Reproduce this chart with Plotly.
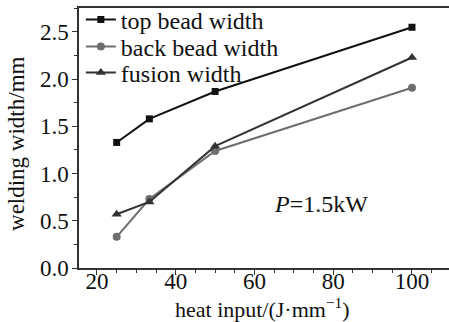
import plotly.graph_objects as go

heat_input = [25, 33.3, 50, 100]
top_bead = [1.33, 1.58, 1.87, 2.55]
back_bead = [0.33, 0.73, 1.24, 1.91]
fusion = [0.57, 0.70, 1.29, 2.23]

FONT = "Liberation Serif"
TXT = "#111111"

fig = go.Figure()
fig.add_trace(go.Scatter(x=heat_input, y=top_bead, name="top bead width", mode="lines+markers",
                         legend="legend",
                         line=dict(color="#111111", width=2),
                         marker=dict(symbol="square", size=7, color="#111111")))
fig.add_trace(go.Scatter(x=heat_input, y=back_bead, name="back bead width", mode="lines+markers",
                         legend="legend2",
                         line=dict(color="#6e6e6e", width=2),
                         marker=dict(symbol="circle", size=8, color="#6e6e6e")))
fig.add_trace(go.Scatter(x=heat_input, y=fusion, name="fusion width", mode="lines+markers",
                         legend="legend3",
                         line=dict(color="#333333", width=2),
                         marker=dict(symbol="triangle-up", size=9, color="#333333")))

fig.add_annotation(x=64.4, y=0.68, xref="x", yref="y", xanchor="left", yanchor="middle",
                   text="<i>P</i>=1.5kW", showarrow=False,
                   font=dict(family=FONT, size=24, color=TXT))

# axis titles
fig.add_annotation(x=0.495, y=-0.15, xref="paper", yref="paper", xanchor="center", yanchor="middle",
                   yshift=-1,
                   text="heat input/(J·mm<sup>−1</sup>)", showarrow=False,
                   font=dict(family=FONT, size=22, color=TXT))
fig.add_annotation(x=0, y=0.477, xref="paper", yref="paper", xanchor="center", yanchor="middle",
                   xshift=-62, textangle=-90,
                   text="welding width/mm", showarrow=False,
                   font=dict(family=FONT, size=23, color=TXT))

leg_common = dict(x=0.005, xanchor="left", yanchor="middle", bgcolor="rgba(0,0,0,0)",
                  font=dict(family=FONT, size=24, color=TXT), itemwidth=30)

fig.update_layout(
    width=449, height=322,
    margin=dict(l=79, r=0, t=8, b=54, autoexpand=False),
    paper_bgcolor="white", plot_bgcolor="white",
    font=dict(family=FONT, size=22, color=TXT),
    showlegend=True,
    legend=dict(y=0.954, **leg_common),
    legend2=dict(y=0.85, **leg_common),
    legend3=dict(y=0.75, **leg_common),
    xaxis=dict(range=[15.43, 109.4], tickmode="linear", tick0=0, dtick=20,
               ticks="outside", ticklen=5, tickwidth=1.2, tickcolor="#333",
               minor=dict(dtick=5, ticks="outside", ticklen=3, tickcolor="#333"),
               showline=True, linecolor="#333", linewidth=1.5, mirror=True,
               showgrid=False, zeroline=False, automargin=False,
               ticklabelstandoff=-13,
               tickfont=dict(family=FONT, size=23, color=TXT)),
    yaxis=dict(range=[0, 2.754], tickmode="linear", tick0=0, dtick=0.5, tickformat=".1f",
               ticks="outside", ticklen=5, tickwidth=1.2, tickcolor="#333",
               minor=dict(dtick=0.25, ticks="outside", ticklen=3, tickcolor="#333"),
               showline=True, linecolor="#333", linewidth=1.5, mirror=False,
               showgrid=False, zeroline=False, automargin=False,
               ticklabelstandoff=-1,
               tickfont=dict(family=FONT, size=23, color=TXT)),
)

fig.write_html("out.html", config={"displayModeBar": False},
               post_script="document.body.style.margin='0';")
